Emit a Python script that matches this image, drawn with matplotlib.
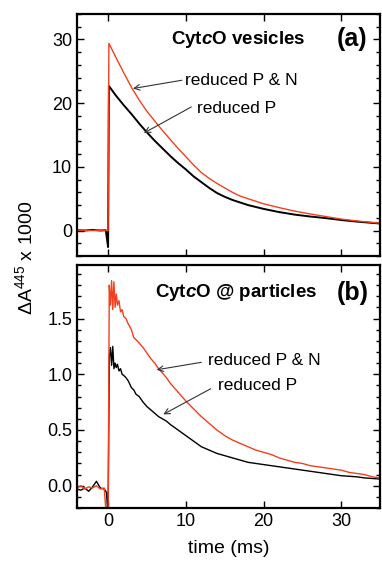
"""
Two-panel kinetic trace figure: CytcO vesicles (a) and CytcO @ particles (b).
Outputs: out.png
"""
import matplotlib.pyplot as plt
from matplotlib.ticker import MultipleLocator

plt.rcParams['font.family'] = ['Liberation Sans', 'DejaVu Sans']
plt.rcParams['mathtext.fontset'] = 'custom'
plt.rcParams['mathtext.rm'] = 'Liberation Sans'
plt.rcParams['mathtext.it'] = 'Liberation Sans:italic'
plt.rcParams['mathtext.bf'] = 'Liberation Sans:bold'
plt.rcParams['mathtext.bfit'] = 'Liberation Sans:italic:bold'

# panel (a): CytcO vesicles
t_a = [-4, -3, -2, -1, -0.3, 0.0, 0.1, 1, 2, 3, 4, 5, 6, 7, 8, 9, 10, 11, 12,
       13, 14, 15, 16, 17, 18, 19, 20, 22, 24, 26, 28, 30, 32, 35]
red_a = [0.0, 0.05, 0.0, 0.05, 0.0, 0.0, 29.4, 27.2, 24.8, 22.5, 20.5, 18.7,
         17.2, 15.7, 14.3, 12.9, 11.6, 10.3, 9.1, 8.2, 7.4, 6.7, 6.0, 5.4,
         5.0, 4.6, 4.2, 3.6, 3.05, 2.6, 2.2, 1.8, 1.5, 1.15]
black_a = [0.05, 0.0, 0.1, 0.0, 0.05, -2.6, 22.7, 21.2, 19.7, 18.3, 16.8,
           15.4, 14.1, 12.9, 11.7, 10.6, 9.6, 8.5, 7.6, 6.7, 5.9, 5.3, 4.8,
           4.4, 4.0, 3.7, 3.4, 2.9, 2.5, 2.2, 1.95, 1.65, 1.4, 1.1]

# panel (b): CytcO @ particles
t_b = [-4, -3.5, -3, -2.5, -2, -1.5, -1, -0.5, -0.2, 0.0, 0.15, 0.3, 0.45,
       0.6, 0.75, 0.9, 1.05, 1.2, 1.4, 1.6, 1.8, 2.0, 2.3, 2.6, 3.0, 3.3, 3.6,
       4.0, 4.5, 5, 5.5, 6, 6.5, 7, 7.5, 8, 9, 10, 11, 12, 13, 14, 15, 16, 17,
       18, 19, 20, 21, 22, 23, 24, 25, 26, 27, 28, 29, 30, 31, 32, 33, 34, 35]
red_b = [-0.02, 0.0, -0.03, -0.01, -0.02, 0.0, -0.03, -0.02, -0.3, -0.3,
         1.80, 1.62, 1.84, 1.58, 1.83, 1.60, 1.72, 1.62, 1.66, 1.56, 1.58,
         1.52, 1.50, 1.45, 1.40, 1.33, 1.31, 1.28, 1.24, 1.19, 1.14, 1.10,
         1.05, 1.01, 0.97, 0.92, 0.84, 0.76, 0.69, 0.62, 0.56, 0.50, 0.45,
         0.41, 0.38, 0.35, 0.32, 0.30, 0.28, 0.25, 0.23, 0.21, 0.20, 0.18,
         0.17, 0.16, 0.15, 0.14, 0.12, 0.11, 0.10, 0.08, 0.07]
black_b = [-0.03, -0.04, -0.02, -0.05, -0.01, 0.04, -0.02, -0.03, -0.06, -0.3,
           1.15, 1.24, 1.08, 1.25, 1.05, 1.10, 1.06, 1.09, 1.03, 1.05, 1.00,
           0.99, 0.97, 0.94, 0.88, 0.86, 0.82, 0.80, 0.75, 0.71, 0.68, 0.65,
           0.62, 0.60, 0.58, 0.55, 0.50, 0.45, 0.40, 0.35, 0.32, 0.29, 0.27,
           0.25, 0.23, 0.21, 0.20, 0.19, 0.18, 0.17, 0.16, 0.15, 0.14, 0.13,
           0.12, 0.11, 0.10, 0.09, 0.085, 0.08, 0.07, 0.065, 0.06]

RED = '#f2401e'

fig = plt.figure(figsize=(3.82, 5.67), dpi=100)
ax1 = fig.add_axes([0.2016, 0.5485, 0.7934, 0.4268])
ax2 = fig.add_axes([0.2016, 0.1040, 0.7934, 0.4286])

ax1.plot(t_a, black_a, color='black', lw=1.4)
ax1.plot(t_a, red_a, color=RED, lw=1.0)
ax2.plot(t_b, black_b, color='black', lw=1.0)
ax2.plot(t_b, red_b, color=RED, lw=1.0)

ax1.set_xlim(-4, 35)
ax1.set_ylim(-4, 34)
ax2.set_xlim(-4, 35)
ax2.set_ylim(-0.2, 1.98)

ax1.yaxis.set_major_locator(MultipleLocator(10))
ax1.yaxis.set_minor_locator(MultipleLocator(2))
ax2.yaxis.set_major_locator(MultipleLocator(0.5))
ax2.yaxis.set_minor_locator(MultipleLocator(0.1))
ax2.yaxis.set_major_formatter(plt.FuncFormatter(lambda v, p: f'{v:.1f}'))
for ax in (ax1, ax2):
    ax.xaxis.set_major_locator(MultipleLocator(10))
    ax.tick_params(which='both', direction='in', top=True, right=True,
                   labelsize=13, width=1.0)
    ax.tick_params(which='major', length=5)
    ax.tick_params(which='minor', length=3)
    for s in ax.spines.values():
        s.set_linewidth(1.6)
ax1.tick_params(labelbottom=False)

# panel titles
ax1.text(8.15, 30, 'Cyt$\\mathbfit{c}$O vesicles', fontsize=13.5,
         fontweight='bold', va='center', ha='left')
ax1.text(29.4, 30, '(a)', fontsize=18, fontweight='bold',
         va='center', ha='left')
ax2.text(6.0, 1.73, 'Cyt$\\mathbfit{c}$O @ particles', fontsize=13.5,
         fontweight='bold', va='center', ha='left')
ax2.text(29.4, 1.73, '(b)', fontsize=18, fontweight='bold',
         va='center', ha='left')

# annotations
arrow = dict(arrowstyle='->', lw=0.8, color='#333333', shrinkA=0, shrinkB=0)
ax1.text(9.9, 23.6, 'reduced P & N', fontsize=12.5, va='center', ha='left')
ax1.annotate('', xy=(3.2, 22.3), xytext=(9.5, 23.6), arrowprops=arrow)
ax1.text(11.4, 19.2, 'reduced P', fontsize=12.5, va='center', ha='left')
ax1.annotate('', xy=(4.6, 15.3), xytext=(10.7, 19.4), arrowprops=arrow)

ax2.text(12.8, 1.12, 'reduced P & N', fontsize=12.5, va='center', ha='left')
ax2.annotate('', xy=(6.24, 1.04), xytext=(12.0, 1.107), arrowprops=arrow)
ax2.text(14.1, 0.90, 'reduced P', fontsize=12.5, va='center', ha='left')
ax2.annotate('', xy=(7.1, 0.64), xytext=(13.2, 0.87), arrowprops=arrow)

ax2.set_xlabel('time (ms)', fontsize=14, labelpad=7)
fig.text(25 / 382, 1 - 258 / 567, '$\\Delta$A$^{445}$ x 1000', fontsize=14,
         rotation=90, ha='center', va='center')

plt.savefig('out.png', dpi=100)
plt.close()
